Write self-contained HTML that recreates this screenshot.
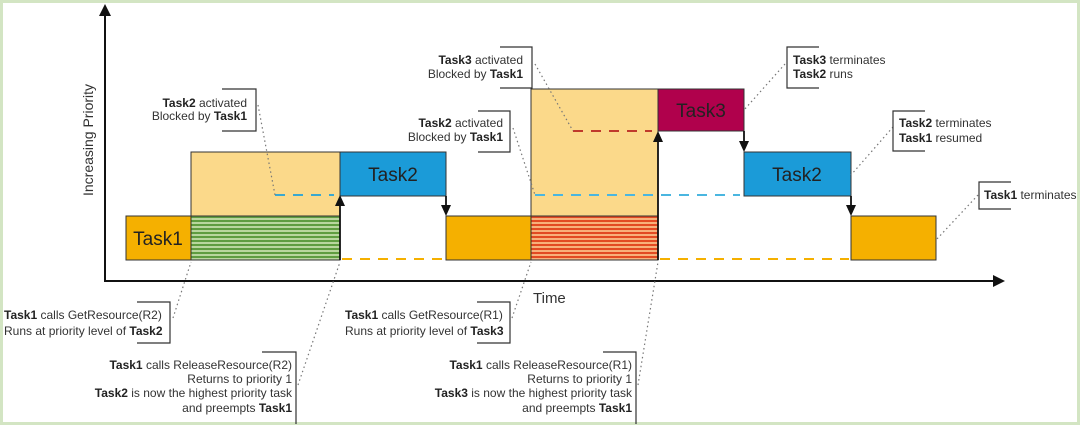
<!DOCTYPE html>
<html><head><meta charset="utf-8"><style>
html,body{margin:0;padding:0;background:#fff}
svg{display:block}
text{font-family:"Liberation Sans",sans-serif;fill:#333}
.b{font-weight:bold;fill:#222}
</style></head><body>
<svg width="1080" height="425" viewBox="0 0 1080 425" xmlns="http://www.w3.org/2000/svg">
<defs>
<pattern id="g" width="4" height="4" patternUnits="userSpaceOnUse"><rect width="4" height="4" fill="#b9d69e"/><rect width="4" height="2" fill="#5f9c40"/></pattern>
<pattern id="r" width="4" height="4" patternUnits="userSpaceOnUse"><rect width="4" height="4" fill="#f8b07a"/><rect width="4" height="2" fill="#e24a22"/></pattern>
</defs>
<rect x="1.5" y="1.5" width="1077" height="422" fill="#fff" stroke="#d3e5c3" stroke-width="3"/>
<!-- boxes -->
<rect x="191" y="152" width="149" height="64" fill="#fbd98a" stroke="#333"/>
<rect x="531" y="89" width="127" height="127" fill="#fbd98a" stroke="#333"/>
<rect x="126" y="216" width="65" height="44" fill="#f5b000" stroke="#333"/>
<rect x="191" y="216" width="149" height="44" fill="url(#g)" stroke="#333"/>
<rect x="340" y="152" width="106" height="44" fill="#1b9bd8" stroke="#333"/>
<rect x="446" y="216" width="85" height="44" fill="#f5b000" stroke="#333"/>
<rect x="531" y="216" width="127" height="44" fill="url(#r)" stroke="#333"/>
<rect x="658" y="89" width="86" height="42" fill="#b0014c" stroke="#333"/>
<rect x="744" y="152" width="107" height="44" fill="#1b9bd8" stroke="#333"/>
<rect x="851" y="216" width="85" height="44" fill="#f5b000" stroke="#333"/>
<g font-size="19" text-anchor="middle">
<text x="158" y="245" style="fill:#222">Task1</text>
<text x="393" y="181" style="fill:#222">Task2</text>
<text x="701" y="117" style="fill:#222">Task3</text>
<text x="797" y="181" style="fill:#222">Task2</text>
</g>
<!-- dashed -->
<g stroke-width="2" stroke-dasharray="10,8" fill="none">
<line x1="275" y1="195" x2="334" y2="195" stroke="#3aa8d0"/>
<line x1="535" y1="195" x2="740" y2="195" stroke="#4ab6e0"/>
<line x1="573" y1="131" x2="652" y2="131" stroke="#c0392b"/>
<line x1="342" y1="259" x2="444" y2="259" stroke="#f5b000"/>
<line x1="660" y1="259" x2="849" y2="259" stroke="#f5b000"/>
</g>
<!-- arrows -->
<g stroke="#111" stroke-width="1.8">
<line x1="340" y1="260" x2="340" y2="204"/>
<line x1="446" y1="196" x2="446" y2="208"/>
<line x1="658" y1="260" x2="658" y2="139"/>
<line x1="744" y1="131" x2="744" y2="144"/>
<line x1="851" y1="196" x2="851" y2="208"/>
</g>
<g fill="#111">
<path d="M335,206 L340,195 L345,206 Z"/>
<path d="M441,205 L446,216 L451,205 Z"/>
<path d="M653,142 L658,131 L663,142 Z"/>
<path d="M739,141 L744,152 L749,141 Z"/>
<path d="M846,205 L851,216 L856,205 Z"/>
</g>
<!-- axes -->
<line x1="105" y1="281" x2="105" y2="14" stroke="#111" stroke-width="2"/>
<path d="M99,16 L105,4 L111,16 Z" fill="#111"/>
<line x1="104" y1="281" x2="995" y2="281" stroke="#111" stroke-width="2"/>
<path d="M993,275 L1005,281 L993,287 Z" fill="#111"/>
<text x="533" y="303" font-size="15" style="fill:#333">Time</text>
<text transform="translate(93,140) rotate(-90)" font-size="14" text-anchor="middle" style="fill:#333">Increasing Priority</text>
<!-- dotted connectors -->
<g stroke="#777" stroke-width="1.2" stroke-dasharray="1.5,3" fill="none">
<path d="M258,105 L275,195"/>
<path d="M535,64 L573,131"/>
<path d="M513,128 L535,195"/>
<path d="M785,64 L744,110"/>
<path d="M893,127 L851,175"/>
<path d="M978,195 L936,240"/>
<path d="M173,318 L191,262"/>
<path d="M298,385 L340,262"/>
<path d="M512,318 L531,262"/>
<path d="M638,385 L658,262"/>
</g>
<!-- brackets -->
<g stroke="#333" stroke-width="1.2" fill="none">
<path d="M222,89 L256,89 L256,131 L222,131"/>
<path d="M500,47 L532,47 L532,88 L500,88"/>
<path d="M478,111 L510,111 L510,152 L478,152"/>
<path d="M819,47 L787,47 L787,88 L819,88"/>
<path d="M925,111 L893,111 L893,151 L925,151"/>
<path d="M1011,182 L979,182 L979,209 L1011,209"/>
<path d="M137,302 L170,302 L170,343 L137,343"/>
<path d="M262,352 L296,352 L296,424"/>
<path d="M477,302 L510,302 L510,343 L477,343"/>
<path d="M603,352 L636,352 L636,424"/>
</g>
<!-- labels -->
<g font-size="12">
<text x="247" y="107" text-anchor="end"><tspan class="b">Task2</tspan> activated</text>
<text x="247" y="120" text-anchor="end">Blocked by <tspan class="b">Task1</tspan></text>
<text x="523" y="64" text-anchor="end"><tspan class="b">Task3</tspan> activated</text>
<text x="523" y="78" text-anchor="end">Blocked by <tspan class="b">Task1</tspan></text>
<text x="503" y="127" text-anchor="end"><tspan class="b">Task2</tspan> activated</text>
<text x="503" y="141" text-anchor="end">Blocked by <tspan class="b">Task1</tspan></text>
<text x="793" y="64"><tspan class="b">Task3</tspan> terminates</text>
<text x="793" y="78"><tspan class="b">Task2</tspan> runs</text>
<text x="899" y="127"><tspan class="b">Task2</tspan> terminates</text>
<text x="899" y="142"><tspan class="b">Task1</tspan> resumed</text>
<text x="984" y="199"><tspan class="b">Task1</tspan> terminates</text>
<text x="4" y="319"><tspan class="b">Task1</tspan> calls GetResource(R2)</text>
<text x="4" y="335">Runs at priority level of <tspan class="b">Task2</tspan></text>
<text x="345" y="319"><tspan class="b">Task1</tspan> calls GetResource(R1)</text>
<text x="345" y="335">Runs at priority level of <tspan class="b">Task3</tspan></text>
<text x="292" y="369" text-anchor="end"><tspan class="b">Task1</tspan> calls ReleaseResource(R2)</text>
<text x="292" y="383" text-anchor="end">Returns to priority 1</text>
<text x="292" y="397" text-anchor="end"><tspan class="b">Task2</tspan> is now the highest priority task</text>
<text x="292" y="412" text-anchor="end">and preempts <tspan class="b">Task1</tspan></text>
<text x="632" y="369" text-anchor="end"><tspan class="b">Task1</tspan> calls ReleaseResource(R1)</text>
<text x="632" y="383" text-anchor="end">Returns to priority 1</text>
<text x="632" y="397" text-anchor="end"><tspan class="b">Task3</tspan> is now the highest priority task</text>
<text x="632" y="412" text-anchor="end">and preempts <tspan class="b">Task1</tspan></text>
</g>
</svg>
</body></html>
